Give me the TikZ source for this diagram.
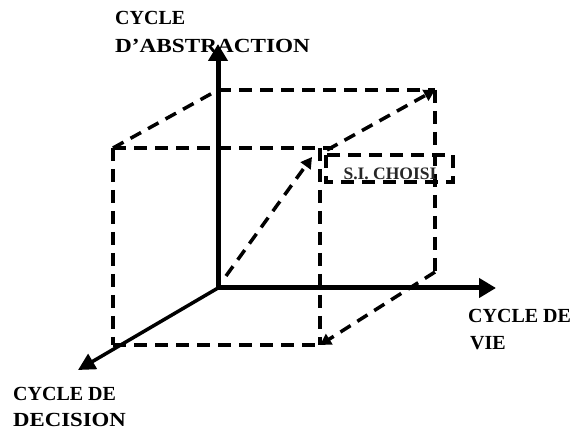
\documentclass[tikz,border=0pt]{standalone}
\usepackage{fontspec}
\setmainfont{Liberation Serif}
\usetikzlibrary{arrows.meta}
\begin{document}
\begin{tikzpicture}[x=1pt,y=-1pt,
  axis/.style={line width=5pt,-{Triangle[length=17pt,width=19pt]}},
  daxis/.style={line width=3.5pt,-{Triangle[length=17pt,width=17pt]}},
  edge/.style={line width=4.5pt,dash pattern=on 13pt off 8pt},
  dedge/.style={line width=3.5pt,dash pattern=on 12pt off 8pt},
  darrow/.style={dedge,-{Triangle[length=11pt,width=12pt]}},
  lbl/.style={font=\fontsize{20}{24}\selectfont\bfseries,inner sep=0pt,anchor=base west},
  slbl/.style={font=\fontsize{17.5}{20}\selectfont\bfseries,inner sep=0pt,text=black!85}]
\useasboundingbox (0,0) rectangle (576,430);
% coordinates
\coordinate (O) at (218,288);
\coordinate (vtip) at (218,44);
\coordinate (htip) at (496,288);
\coordinate (dtip) at (78,370);
\coordinate (B1) at (218,90);
\coordinate (B2) at (435,90);
\coordinate (B3) at (435,272);
\coordinate (F1) at (113,148);
\coordinate (F2) at (320,148);
\coordinate (F2e) at (333,148);
\coordinate (F3) at (320,345);
\coordinate (F4) at (113,345);
\coordinate (Os) at (226,276);
\coordinate (Oe) at (312,157);
\coordinate (F2s) at (327,150);
% cube
\draw[edge] (F1) -- (F2e);
\draw[edge] (F1) -- (F4);
\draw[edge] (F4) -- (F3);
\draw[edge] (F2) -- (F3);
\draw[edge] (B1) -- (B2);
\draw[edge] (B2) -- (B3);
\draw[dedge] (F1) -- (B1);
\draw[darrow] (F2s) -- (B2);
\draw[darrow] (Os) -- (Oe);
\draw[darrow] (B3) -- (F3);
% box
\node[slbl] (si) at (390,174) {S.I. CHOISI};
\coordinate (S1) at (326,155);
\coordinate (S2) at (453,182);
\draw[edge] (S1) rectangle (S2);
% axes
\draw[axis] (O) -- (vtip);
\draw[axis] (O) -- (htip);
\draw[daxis] (O) -- (dtip);
% labels
\node[lbl] (a1) at (115,25) {CYCLE};
\node[lbl] (a2) at (115,53) {\scalebox{1.16}[1]{D’ABSTRACTION}};
\node[lbl] (v1) at (468,323) {CYCLE DE};
\node[lbl] (v2) at (470,350) {VIE};
\node[lbl] (d1) at (13,400) {CYCLE DE};
\node[lbl] (d2) at (13,427) {\scalebox{1.14}[1]{DECISION}};
\end{tikzpicture}
\end{document}
